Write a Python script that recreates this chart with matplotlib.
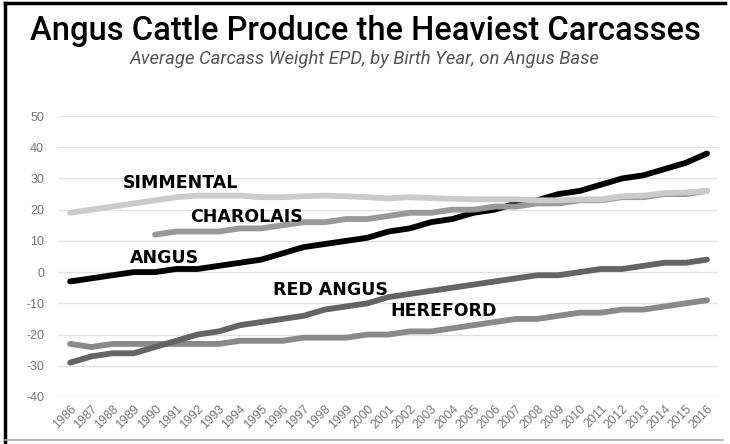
import numpy as np
import matplotlib
matplotlib.use("Agg")
from matplotlib import pyplot as plt
from matplotlib.lines import Line2D

plt.rcParams["axes.unicode_minus"] = False

years = list(range(1986, 2017))

angus = [-3, -2, -1, 0, 0, 1, 1, 2, 3, 4, 6, 8, 9, 10, 11, 13,
         14, 16, 17, 19, 20, 22, 23, 25, 26, 28, 30, 31, 33, 35, 38]
simmental = [19, 20, 21, 22, 23, 24, 24.5, 24.5, 24.5, 24, 24, 24.3, 24.5, 24.3, 24, 23.6,
             24, 23.7, 23.5, 23.3, 23.3, 23.3, 23, 23, 23.3, 23.3, 24.3, 24.5, 25.3, 25.5, 26]
charolais_years = list(range(1990, 2017))
charolais = [12, 13, 13, 13, 14, 14, 15, 16, 16, 17, 17, 18, 19, 19,
             20, 20, 21, 21, 22, 22, 23, 23, 24, 24, 25, 25, 26]
red_angus = [-29, -27, -26, -26, -24, -22, -20, -19, -17, -16, -15, -14, -12, -11, -10, -8,
             -7, -6, -5, -4, -3, -2, -1, -1, 0, 1, 1, 2, 3, 3, 4]
hereford = [-23, -24, -23, -23, -23, -23, -23, -23, -22, -22, -22, -21, -21, -21, -20, -20,
            -19, -19, -18, -17, -16, -15, -15, -14, -13, -13, -12, -12, -11, -10, -9]

fig = plt.figure(figsize=(7.3, 4.44), dpi=100)
ax = fig.add_axes([0.0795, 0.1059, 0.9041, 0.6328])

lw = 4.2
ax.plot(years, hereford, color="#8a8a8a", lw=lw, solid_capstyle="round", zorder=3)
ax.plot(years, red_angus, color="#646464", lw=lw, solid_capstyle="round", zorder=4)
ax.plot(years, angus, color="black", lw=lw, solid_capstyle="round", zorder=5)
ax.plot(charolais_years, charolais, color="#999999", lw=lw, solid_capstyle="round", zorder=6)
ax.plot(years, simmental, color="#cbcbcb", lw=lw, solid_capstyle="round", zorder=7)

lab = dict(fontsize=12.5, fontweight="bold", family="DejaVu Sans", ha="center", va="center",
           color="black", zorder=8)
ax.text(1991.18, 28.5, "SIMMENTAL", **lab)
ax.text(1994.29, 17.6, "CHAROLAIS", **lab)
ax.text(1990.43, 4.5, "ANGUS", **lab)
ax.text(1998.25, -5.8, "RED ANGUS", **lab)
ax.text(2003.57, -12.5, "HEREFORD", **lab)

ax.set_xlim(1985.43, 2016.52)
ax.set_ylim(-40, 50)
ax.set_yticks(range(-40, 51, 10))
ax.set_xticks(years)
ax.set_xticklabels([str(y) for y in years], rotation=45, ha="right", rotation_mode="anchor")
ax.tick_params(axis="both", length=0, colors="#777777", labelsize=9)
ax.tick_params(axis="x", pad=4)
ax.tick_params(axis="y", pad=10)
for t in ax.get_xticklabels() + ax.get_yticklabels():
    t.set_family("Liberation Sans")
ax.grid(axis="y", color="#e2e2e2", lw=1)
ax.set_axisbelow(True)
for s in ax.spines.values():
    s.set_visible(False)

fig.text(0.5, 0.93, "Angus Cattle Produce the Heaviest Carcasses", ha="center", va="center",
         fontsize=23.5, family="Roboto", fontweight="medium", color="black")
fig.text(0.5, 0.866, "Average Carcass Weight EPD, by Birth Year, on Angus Base", ha="center",
         va="center", fontsize=13.3, family="Roboto", style="italic", color="#555555")

# frame around the figure
fig.add_artist(Line2D([0.007, 0.007], [0.005, 0.993], color="black", lw=2.5, transform=fig.transFigure))
fig.add_artist(Line2D([0.007, 0.993], [0.993, 0.993], color="black", lw=2.5, transform=fig.transFigure))
fig.add_artist(Line2D([0.007, 0.99], [0.009, 0.009], color="#aaaaaa", lw=1.2, transform=fig.transFigure))

fig.savefig("out.png", dpi=100)
